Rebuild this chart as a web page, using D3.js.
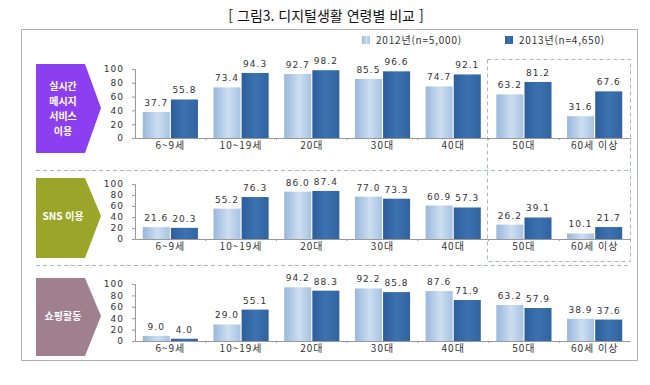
<!DOCTYPE html>
<html lang="ko">
<head>
    <meta charset="UTF-8">
    <title>디지털생활 연령별 비교</title>
    <script src="https://d3js.org/d3.v7.min.js"></script>
    <style>
        body { margin: 0; background: #fff; }
        text { font-family: "Noto Sans CJK KR", "Noto Sans", sans-serif; }
        .num { font-family: "DejaVu Sans", sans-serif; }
    </style>
</head>
<body>
<script>
    var width = 650;
    var height = 385;

    var ages = ["6~9세", "10~19세", "20대", "30대", "40대", "50대", "60세 이상"];
    var seriesNames = ["2012년(n=5,000)", "2013년(n=4,650)"];
    var yTicks = [0, 20, 40, 60, 80, 100];

    // 실시간 메시지 서비스 이용
    var msg2012 = [37.7, 73.4, 92.7, 85.5, 74.7, 63.2, 31.6];
    var msg2013 = [55.8, 94.3, 98.2, 96.6, 92.1, 81.2, 67.6];
    // SNS 이용
    var sns2012 = [21.6, 55.2, 86.0, 77.0, 60.9, 26.2, 10.1];
    var sns2013 = [20.3, 76.3, 87.4, 73.3, 57.3, 39.1, 21.7];
    // 쇼핑활동
    var shop2012 = [9.0, 29.0, 94.2, 92.2, 87.6, 63.2, 38.9];
    var shop2013 = [4.0, 55.1, 88.3, 85.8, 71.9, 57.9, 37.6];

    var panels = [
        {label: ["실시간", "메시지", "서비스", "이용"], color: "#8c3ff0", a: msg2012, b: msg2013,
            top: 69, bottom: 138, boxTop: 64, boxBottom: 153, tipY: 108},
        {label: ["SNS 이용"], color: "#9ba52a", a: sns2012, b: sns2013,
            top: 184, bottom: 239, boxTop: 178, boxBottom: 258, tipY: 216},
        {label: ["쇼핑활동"], color: "#a0808f", a: shop2012, b: shop2013,
            top: 284, bottom: 341, boxTop: 278, boxBottom: 356, tipY: 316}
    ];

    var svg = d3.select("body").append("svg")
        .attr("width", width)
        .attr("height", height);

    var defs = svg.append("defs");
    var g1 = defs.append("linearGradient").attr("id", "light").attr("x1", "0").attr("x2", "1").attr("y1", "0").attr("y2", "0");
    g1.append("stop").attr("offset", "0%").attr("stop-color", "#98b8dc");
    g1.append("stop").attr("offset", "55%").attr("stop-color", "#cddef1");
    g1.append("stop").attr("offset", "100%").attr("stop-color", "#a6c2e2");
    var g2 = defs.append("linearGradient").attr("id", "dark").attr("x1", "0").attr("x2", "1").attr("y1", "0").attr("y2", "0");
    g2.append("stop").attr("offset", "0%").attr("stop-color", "#2c5e9c");
    g2.append("stop").attr("offset", "50%").attr("stop-color", "#3c72b0");
    g2.append("stop").attr("offset", "100%").attr("stop-color", "#30649f");

    // 제목
    svg.append("text")
        .attr("x", 326).attr("y", 21)
        .attr("text-anchor", "middle")
        .style("font-size", "14px")
        .style("fill", "#111")
        .text("[ 그림3. 디지털생활 연령별 비교 ]");

    // 바깥 테두리
    svg.append("rect")
        .attr("x", 21.5).attr("y", 29.5)
        .attr("width", 616).attr("height", 331)
        .attr("fill", "none")
        .attr("stroke", "#b0b0b0")
        .attr("stroke-width", 1);

    // 범례
    var legend = svg.append("g").attr("transform", "translate(362,36)");
    seriesNames.forEach(function (name, i) {
        var lg = legend.append("g").attr("transform", "translate(" + (i * 143) + ",0)");
        lg.append("rect").attr("width", 8).attr("height", 8)
            .attr("fill", i == 0 ? "url(#light)" : "url(#dark)");
        lg.append("text").attr("x", 14).attr("y", 8)
            .style("font-size", "10px")
            .style("letter-spacing", "0.8px")
            .style("fill", "#333")
            .text(name);
    });

    var x = d3.scaleBand().domain(ages).range([135, 630]).paddingInner(0.22).paddingOuter(0.11);
    var xs = d3.scaleBand().domain([0, 1]).range([0, x.bandwidth()]).paddingInner(0.04);

    // 구분 점선
    [170.5, 265.5].forEach(function (yy) {
        svg.append("line")
            .attr("x1", 36).attr("x2", 630)
            .attr("y1", yy).attr("y2", yy)
            .attr("stroke", "#a8b8c8")
            .attr("stroke-dasharray", "4,3");
    });
    // 50대, 60세 이상 점선 상자
    svg.append("rect")
        .attr("x", 487.5).attr("y", 59.5)
        .attr("width", 143).attr("height", 202)
        .attr("fill", "none")
        .attr("stroke", "#a8b8c8")
        .attr("stroke-dasharray", "4,3");

    panels.forEach(function (p) {
        var y = d3.scaleLinear().domain([0, 100]).range([p.bottom, p.top]);
        var g = svg.append("g");

        // 왼쪽 화살표 상자
        var x0 = 36, x1 = 85, tip = 101;
        g.append("path")
            .attr("d", "M" + x0 + "," + p.boxTop + "L" + x1 + "," + p.boxTop + "L" + tip + "," + p.tipY +
                "L" + x1 + "," + p.boxBottom + "L" + x0 + "," + p.boxBottom + "Z")
            .attr("fill", p.color);
        var lh = 15;
        var startY = p.tipY - (p.label.length - 1) * lh / 2 + 4;
        var lbl = g.append("text")
            .attr("text-anchor", "middle")
            .style("font-size", "10px")
            .style("font-weight", "bold")
            .style("fill", "#fff");
        p.label.forEach(function (t, i) {
            lbl.append("tspan")
                .attr("x", 63).attr("y", startY + i * lh)
                .text(t);
        });

        // y축
        var yAxis = g.append("g").attr("transform", "translate(135,0)")
            .call(d3.axisLeft(y).tickValues(yTicks).tickSize(3).tickPadding(8));
        yAxis.select(".domain").attr("stroke", "#999");
        yAxis.selectAll(".tick line").attr("stroke", "#999");
        yAxis.attr("font-family", null);
        yAxis.selectAll("text").attr("class", "num").style("font-size", "9px").style("fill", "#333")
            .style("letter-spacing", "1px");

        // x축
        var xAxis = g.append("g").attr("transform", "translate(0," + p.bottom + ")")
            .call(d3.axisBottom(x).tickSize(0).tickPadding(4));
        xAxis.select(".domain").attr("stroke", "#999");
        xAxis.attr("font-family", null);
        xAxis.selectAll("text").style("font-size", "10px").style("fill", "#333")
            .style("letter-spacing", "1px");
        xAxis.selectAll(".sep").data(ages.slice(1)).enter().append("line")
            .attr("class", "sep")
            .attr("x1", function (d) { return x(d) - x.step() * x.paddingInner() / 2; })
            .attr("x2", function (d) { return x(d) - x.step() * x.paddingInner() / 2; })
            .attr("y1", 0).attr("y2", 2)
            .attr("stroke", "#999");

        // 막대
        [p.a, p.b].forEach(function (vals, si) {
            var bars = g.append("g");
            bars.selectAll("rect").data(vals).enter().append("rect")
                .attr("x", function (d, i) { return x(ages[i]) + xs(si); })
                .attr("width", xs.bandwidth())
                .attr("y", function (d) { return y(d); })
                .attr("height", function (d) { return p.bottom - y(d); })
                .attr("fill", si == 0 ? "url(#light)" : "url(#dark)");
            bars.selectAll("text").data(vals).enter().append("text")
                .attr("class", "num")
                .attr("x", function (d, i) { return x(ages[i]) + xs(si) + xs.bandwidth() / 2; })
                .attr("y", function (d) { return y(d) - 6; })
                .attr("text-anchor", "middle")
                .style("font-size", "9px")
                .style("letter-spacing", "1px")
                .style("fill", "#333")
                .text(function (d) { return d.toFixed(1); });
        });
    });
</script>
</body>
</html>
